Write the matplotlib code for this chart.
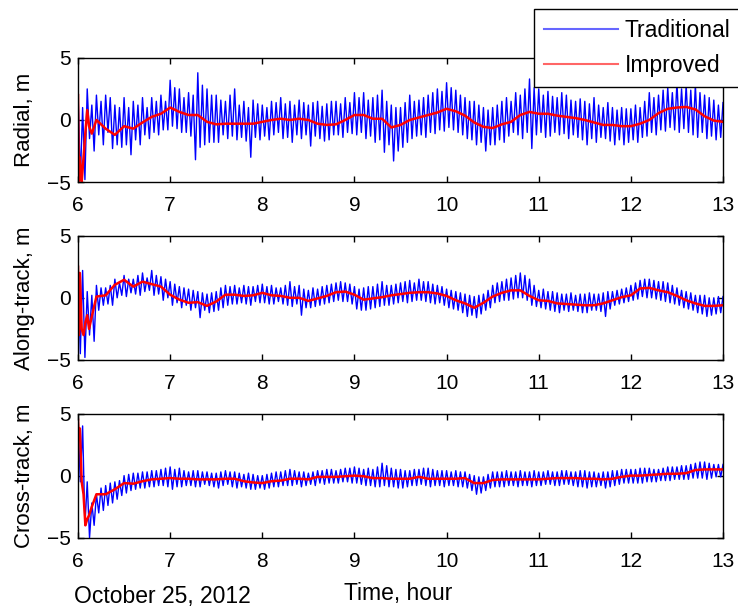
import numpy as np
import matplotlib
matplotlib.use("Agg")
import matplotlib.pyplot as plt

plt.rcParams['font.family'] = ['Liberation Sans', 'DejaVu Sans']

# ---------------- data ----------------
# Traditional solution: samples read every 0.025 h from 6.0 h to 13.0 h
trad_start, trad_end = 6.0, 13.0

radial_trad = [
    2.3, -4.9, 1.0, -4.8, 2.5, -1.5, 1.2, -2.5, 2.0, -1.2, 1.5, -2.0, 2.0, -1.0, 1.8, -2.3, 1.2, -2.0, 1.0, -2.2,
    1.8, -2.0, 1.0, -2.8, 1.5, -1.6, 1.2, -2.0, 1.8, -1.2, 1.0, -1.5, 1.8, -1.0, 1.5, -1.2, 2.0, -0.8, 1.5, -0.8,
    3.2, -0.5, 2.6, -0.7, 2.5, -1.0, 1.8, -1.0, 2.2, -1.3, 2.0, -3.2, 3.8, -2.2, 2.8, -2.0, 2.5, -1.8, 2.0, -1.8,
    2.0, -1.8, 1.6, -1.2, 1.5, -1.5, 2.0, -1.3, 2.5, -1.6, 1.2, -1.4, 1.5, -1.7, 1.0, -3.0, 1.6, -1.4, 1.3, -1.6,
    1.2, -1.3, 1.0, -1.6, 1.5, -1.2, 1.4, -1.0, 1.8, -1.5, 1.3, -1.4, 1.5, -1.8, 1.2, -1.2, 1.6, -1.5, 1.4, -1.2,
    1.2, -2.1, 1.4, -1.3, 1.5, -1.5, 1.1, -1.7, 1.3, -1.6, 1.5, -1.2, 1.5, -1.2, 1.3, -1.4, 1.8, -1.0, 1.4, -1.1,
    2.2, -1.2, 1.8, -1.0, 2.2, -1.5, 1.6, -1.3, 1.8, -1.8, 2.0, -1.6, 2.4, -2.6, 1.5, -2.0, 1.2, -3.3, 1.0, -2.5,
    1.0, -2.2, 1.4, -1.8, 2.0, -1.5, 1.5, -1.3, 1.6, -1.2, 1.8, -1.4, 2.0, -1.0, 2.2, -1.1, 2.5, -0.8, 2.3, -0.9,
    3.0, -0.6, 2.6, -0.8, 2.4, -1.0, 2.0, -1.2, 1.8, -1.5, 1.5, -1.6, 1.5, -2.0, 1.2, -1.8, 1.0, -2.5, 0.8, -2.0,
    1.0, -2.0, 1.2, -1.6, 1.5, -1.8, 1.8, -1.3, 1.5, -1.0, 2.2, -1.2, 2.0, -1.5, 2.5, -1.0, 3.3, -2.3, 2.6, -1.2,
    2.5, -1.0, 2.0, -1.4, 2.3, -1.3, 1.9, -1.0, 1.8, -1.2, 2.2, -1.1, 2.0, -1.5, 1.6, -1.2, 1.5, -1.4, 1.7, -1.6,
    1.5, -2.0, 1.3, -1.5, 1.8, -1.8, 1.2, -1.4, 1.0, -1.5, 1.4, -1.7, 1.0, -2.0, 0.8, -1.6, 1.0, -2.0, 0.9, -1.8,
    0.9, -1.6, 1.2, -1.8, 1.0, -1.4, 1.5, -1.3, 2.2, -1.0, 1.8, -1.2, 2.0, -0.8, 2.4, -0.9, 2.6, -0.6, 2.2, -0.8,
    3.0, -1.0, 2.5, -0.7, 2.8, -1.0, 2.4, -1.2, 2.8, -1.4, 2.2, -1.0, 2.0, -1.5, 1.8, -1.3, 1.6, -1.6, 1.2, -1.4,
    1.4]

along_trad = [
    2.3, -4.5, 2.2, -4.8, 0.5, -3.0, 0.2, -3.5, 1.0, -1.0, 0.8, -0.6, 0.8, -0.5, 1.0, -0.6, 1.5, 0.0, 1.2, 0.2,
    1.8, 0.1, 1.5, 0.4, 1.5, 0.3, 1.8, 0.2, 2.0, 0.5, 1.6, 0.6, 2.2, 0.2, 1.8, 0.3, 1.7, -0.2, 1.5, 0.0,
    1.3, -0.6, 1.1, -0.4, 0.9, -0.8, 0.8, -0.6, 0.7, -1.0, 0.6, -0.8, 0.5, -1.6, 0.4, -1.0, 0.3, -1.2, 0.4, -1.1,
    0.5, -1.0, 0.8, -0.8, 1.0, -0.6, 0.9, -0.5, 1.0, -0.5, 0.8, -0.4, 1.0, -0.5, 0.9, -0.6, 0.9, -0.3, 1.0, -0.4,
    1.1, -0.4, 0.9, -0.5, 1.0, -0.5, 0.8, -0.3, 0.8, -0.5, 1.0, -0.6, 1.3, -0.7, 0.9, -0.5, 1.0, -1.4, 0.7, -0.8,
    0.6, -0.8, 0.8, -0.7, 0.7, -0.6, 0.9, -0.5, 1.0, -0.4, 1.1, -0.3, 1.2, -0.2, 1.3, -0.3, 1.2, -0.3, 1.1, -0.5,
    0.9, -0.9, 0.7, -1.0, 0.8, -1.0, 0.9, -0.9, 0.9, -0.8, 1.1, -0.7, 1.3, -0.6, 1.0, -0.6, 1.0, -0.5, 1.1, -0.4,
    1.2, -0.3, 1.3, -0.4, 1.4, -0.3, 1.2, -0.2, 1.5, -0.2, 1.3, -0.3, 1.3, -0.4, 1.1, -0.5, 1.0, -0.4, 0.9, -0.6,
    0.7, -0.8, 0.6, -0.9, 0.5, -1.0, 0.4, -1.2, 0.3, -1.5, 0.2, -1.4, 0.1, -1.6, 0.2, -1.3, 0.3, -1.0, 0.6, -0.8,
    1.0, -0.4, 1.2, -0.3, 1.3, -0.2, 1.5, -0.2, 1.6, -0.1, 1.8, 0.0, 2.0, 0.0, 1.8, -0.2, 1.5, -0.6, 1.0, -0.7,
    0.6, -0.8, 0.7, -0.9, 0.5, -1.0, 0.5, -1.1, 0.4, -1.2, 0.3, -1.0, 0.3, -1.1, 0.4, -1.0, 0.2, -1.1, 0.3, -1.2,
    0.3, -1.2, 0.4, -1.0, 0.3, -1.0, 0.3, -1.1, 0.4, -1.5, 0.5, -0.9, 0.5, -0.6, 0.6, -0.5, 0.7, -0.4, 0.8, -0.3,
    1.0, -0.2, 1.2, -0.1, 1.4, 0.1, 1.5, 0.0, 1.5, 0.0, 1.4, -0.1, 1.3, -0.2, 1.3, -0.3, 1.2, -0.4, 1.0, -0.5,
    0.8, -0.6, 0.6, -0.8, 0.5, -0.9, 0.4, -1.0, 0.2, -1.2, 0.2, -1.3, 0.2, -1.5, 0.0, -1.4, 0.0, -1.3, 0.1, -1.2,
    0.1]

cross_trad = [
    4.3, -0.5, 4.0, -4.0, -0.5, -5.0, -2.2, -4.0, -1.5, -3.0, -1.0, -2.8, -0.8, -2.4, -0.6, -2.2, -0.5, -1.9, -0.4, -1.6,
    0.0, -1.4, 0.1, -1.2, 0.2, -1.1, 0.2, -1.0, 0.3, -1.0, 0.3, -0.9, 0.4, -0.9, 0.4, -0.8, 0.5, -0.8, 0.6, -0.9,
    0.7, -1.1, 0.5, -0.9, 0.6, -0.9, 0.4, -0.8, 0.3, -0.8, 0.4, -0.9, 0.4, -0.9, 0.3, -0.7, 0.3, -0.8, 0.2, -0.9,
    0.2, -1.0, 0.3, -0.8, 0.4, -0.7, 0.3, -0.9, 0.3, -1.0, 0.2, -0.9, 0.1, -1.0, 0.2, -1.1, 0.1, -1.1, 0.0, -1.0,
    0.0, -1.1, 0.1, -1.0, 0.2, -0.9, 0.3, -0.9, 0.3, -0.8, 0.4, -0.8, 0.5, -0.8, 0.4, -0.7, 0.3, -0.9, 0.3, -0.8,
    0.2, -0.7, 0.3, -0.8, 0.4, -0.6, 0.4, -0.7, 0.5, -0.6, 0.5, -0.6, 0.4, -0.6, 0.5, -0.5, 0.6, -0.5, 0.6, -0.6,
    0.7, -0.6, 0.6, -0.7, 0.5, -0.8, 0.6, -0.8, 0.5, -0.9, 0.7, -0.9, 1.0, -0.8, 0.8, -0.9, 0.6, -0.9, 0.5, -1.0,
    0.5, -1.0, 0.4, -0.9, 0.4, -0.8, 0.5, -0.8, 0.5, -0.7, 0.6, -0.8, 0.6, -0.9, 0.5, -0.8, 0.4, -0.8, 0.4, -0.9,
    0.4, -0.8, 0.3, -0.8, 0.4, -0.9, 0.3, -0.9, 0.3, -1.0, 0.1, -1.2, 0.0, -1.5, -0.1, -1.4, -0.1, -1.2, 0.1, -1.0,
    0.3, -0.9, 0.3, -0.9, 0.3, -0.9, 0.4, -0.8, 0.3, -0.8, 0.3, -0.9, 0.4, -0.8, 0.3, -0.8, 0.3, -0.9, 0.4, -0.8,
    0.3, -0.8, 0.3, -0.7, 0.4, -0.7, 0.3, -0.8, 0.3, -0.8, 0.4, -0.7, 0.4, -0.7, 0.3, -0.8, 0.3, -0.9, 0.4, -0.9,
    0.4, -1.0, 0.3, -0.9, 0.3, -0.9, 0.2, -0.8, 0.3, -1.0, 0.3, -0.9, 0.4, -0.8, 0.4, -0.7, 0.5, -0.6, 0.5, -0.6,
    0.5, -0.6, 0.5, -0.6, 0.6, -0.6, 0.6, -0.5, 0.6, -0.5, 0.5, -0.5, 0.5, -0.4, 0.6, -0.4, 0.7, -0.4, 0.7, -0.3,
    0.7, -0.3, 0.8, -0.3, 0.8, -0.3, 0.9, -0.2, 1.0, -0.2, 1.1, -0.2, 1.1, -0.3, 1.0, -0.2, 0.9, -0.1, 0.9, -0.1,
    0.9]

# Improved solution
imp_hours = [
    6.00, 6.01, 6.02, 6.04, 6.06, 6.08, 6.10, 6.12, 6.15,
    6.2, 6.3, 6.4, 6.5, 6.6, 6.7, 6.8, 6.9, 7.0, 7.1,
    7.2, 7.3, 7.4, 7.5, 7.6, 7.7, 7.8, 7.9, 8.0, 8.1,
    8.2, 8.3, 8.4, 8.5, 8.6, 8.7, 8.8, 8.9, 9.0, 9.1,
    9.2, 9.3, 9.4, 9.5, 9.6, 9.7, 9.8, 9.9, 10.0, 10.1,
    10.2, 10.3, 10.4, 10.5, 10.6, 10.7, 10.8, 10.9, 11.0, 11.1,
    11.2, 11.3, 11.4, 11.5, 11.6, 11.7, 11.8, 11.9, 12.0, 12.1,
    12.2, 12.3, 12.4, 12.5, 12.6, 12.7, 12.8, 12.9, 13.0]

radial_imp = [
    2.0, -4.9, -3.0, -5.0, -3.0, -1.0, 0.8, -0.5, -1.1,
    0.0, -0.7, -1.2, -0.5, -0.7, -0.2, 0.25, 0.5, 1.0, 0.65,
    0.4, 0.4, -0.15, -0.35, -0.3, -0.3, -0.3, -0.3, -0.15, 0.0,
    0.1, 0.0, 0.1, 0.0, -0.3, -0.4, -0.35, 0.0, 0.4, 0.4,
    0.1, 0.1, -0.6, -0.4, 0.0, 0.2, 0.4, 0.6, 0.9, 0.7,
    0.35, -0.2, -0.55, -0.65, -0.35, -0.15, 0.4, 0.65, 0.5, 0.5,
    0.35, 0.25, 0.15, 0.0, -0.2, -0.4, -0.4, -0.5, -0.5, -0.3,
    0.0, 0.55, 0.9, 1.0, 1.05, 0.85, 0.3, -0.05, -0.15]

along_imp = [
    2.5, -3.0, 2.0, -2.5, -3.0, -2.0, -1.4, -2.5, -1.5,
    0.1, 0.2, 1.05, 1.45, 0.9, 1.3, 1.1, 0.9, 0.25, -0.15,
    -0.4, -0.35, -0.65, -0.3, 0.25, 0.25, 0.15, 0.2, 0.4, 0.2,
    0.15, 0.0, 0.0, -0.25, -0.05, 0.15, 0.45, 0.5, 0.25, -0.15,
    -0.05, 0.05, 0.2, 0.3, 0.4, 0.45, 0.45, 0.35, 0.15, -0.2,
    -0.45, -0.8, -0.4, 0.1, 0.4, 0.6, 0.6, 0.15, -0.2, -0.25,
    -0.45, -0.5, -0.55, -0.6, -0.6, -0.45, -0.2, 0.05, 0.2, 0.75,
    0.8, 0.6, 0.45, 0.15, -0.2, -0.45, -0.65, -0.65, -0.6]

cross_imp = [
    4.5, 3.0, 3.8, -0.5, -1.5, -4.0, -3.5, -3.2, -2.5,
    -1.5, -1.5, -1.1, -0.6, -0.65, -0.45, -0.3, -0.25, -0.2, -0.25,
    -0.25, -0.3, -0.3, -0.3, -0.25, -0.25, -0.45, -0.55, -0.6, -0.45,
    -0.4, -0.25, -0.25, -0.3, -0.1, -0.1, -0.1, -0.05, 0.0, -0.05,
    -0.2, -0.2, -0.25, -0.25, -0.25, -0.1, -0.25, -0.25, -0.25, -0.25,
    -0.2, -0.6, -0.6, -0.35, -0.3, -0.3, -0.3, -0.3, -0.3, -0.25,
    -0.2, -0.2, -0.2, -0.25, -0.25, -0.3, -0.25, -0.1, 0.0, 0.0,
    0.05, 0.1, 0.15, 0.15, 0.2, 0.45, 0.5, 0.5, 0.5]

ylabels = ["Radial, m", "Along-track, m", "Cross-track, m"]
xticks = [6, 7, 8, 9, 10, 11, 12, 13]
yticks = [-5, 0, 5]
series_names = ["Traditional", "Improved"]
date_text = "October 25, 2012"
xlabel_text = "Time, hour"

# ---------------- figure ----------------
fig = plt.figure(figsize=(7.38, 6.09), dpi=100)
fig.patch.set_facecolor("white")

ax_left, ax_width, ax_height = 0.1057, 0.874, 0.204
bottoms = [0.701, 0.409, 0.117]

trad_sets = [radial_trad, along_trad, cross_trad]
imp_sets = [radial_imp, along_imp, cross_imp]

handles = None
for i in range(3):
    ax = fig.add_axes([ax_left, bottoms[i], ax_width, ax_height])
    tv = np.array(trad_sets[i])
    th = np.linspace(trad_start, trad_end, len(tv))
    n = min(len(imp_hours), len(imp_sets[i]))
    l1, = ax.plot(th, tv, color=(0, 0, 1), lw=1.0, label=series_names[0])
    l2, = ax.plot(imp_hours[:n], imp_sets[i][:n], color=(1, 0, 0), lw=1.8,
                  label=series_names[1])
    ax.set_xlim(6, 13)
    ax.set_ylim(-5, 5)
    ax.set_xticks(xticks)
    ax.set_yticks(yticks)
    ax.tick_params(direction="in", length=4, width=1, top=True, right=True,
                   labelsize=15, colors="black")
    ax.tick_params(axis="x", pad=10)
    ax.tick_params(axis="y", pad=5)
    for s in ax.spines.values():
        s.set_linewidth(1.0)
        s.set_color("black")
    ax.set_ylabel(ylabels[i], fontsize=16)
    ax.yaxis.set_label_coords(-0.066, 0.5)
    if handles is None:
        handles = [l1, l2]

leg = fig.legend(handles, series_names, loc="upper left",
                 bbox_to_anchor=(0.7236, 0.985), bbox_transform=fig.transFigure,
                 fontsize=16.5, frameon=True, fancybox=False, shadow=False,
                 framealpha=1.0, edgecolor="black", handlelength=3.2,
                 handletextpad=0.3, labelspacing=0.5, borderpad=0.45,
                 borderaxespad=0.0)
leg.get_frame().set_linewidth(1.0)
for lh in leg.get_lines():
    lh.set_linewidth(1.5)
    lh.set_alpha(0.6)

fig.text(0.100, 0.002, date_text, fontsize=16.5, ha="left", va="bottom")
fig.text(0.539, 0.006, xlabel_text, fontsize=16.5, ha="center", va="bottom")

fig.savefig("out.png", dpi=100, facecolor="white")
